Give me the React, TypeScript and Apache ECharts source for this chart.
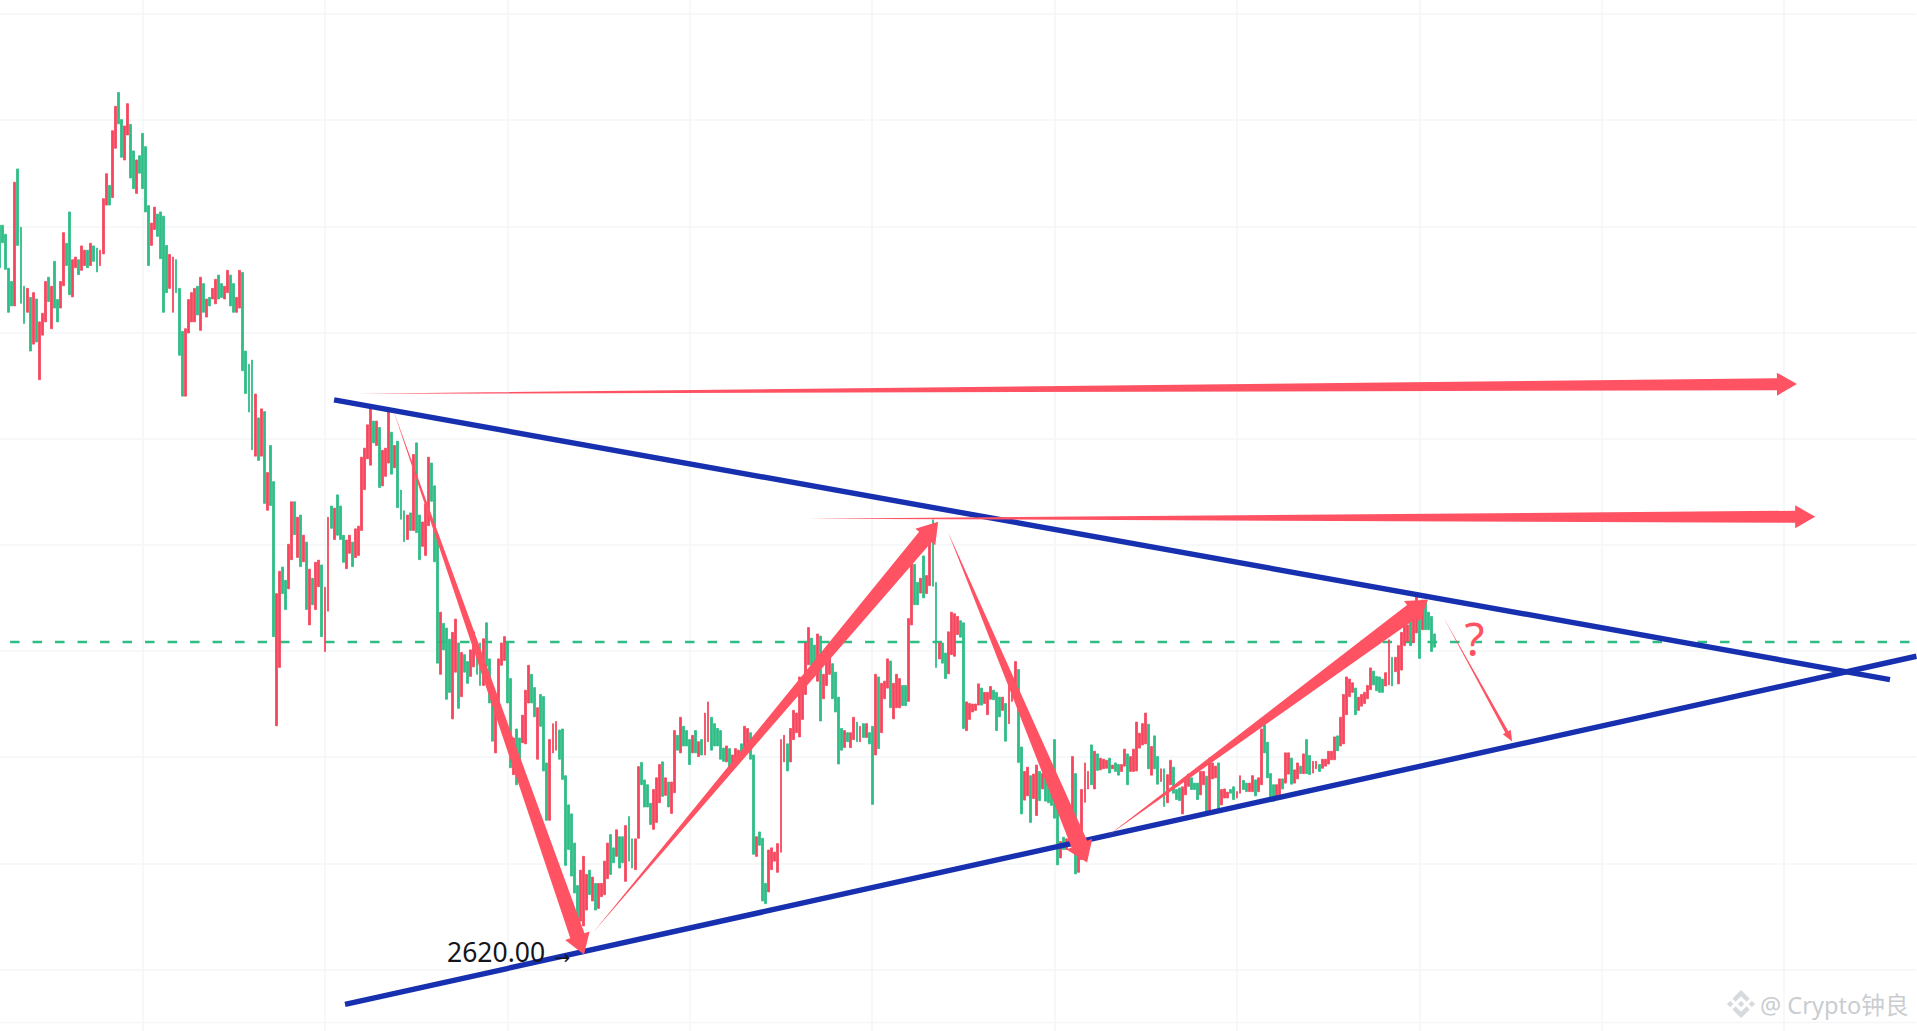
import React, { useEffect, useRef } from "react";
import * as echarts from "echarts";

const highs = [
4002,4002,3985,3921,3896,4083,4108,3998,3887,3883,
3866,3875,3863,3820,3836,3896,3904,3887,3934,3862,
3896,3988,3968,4027,3937,3942,3937,3963,3955,3955,
3968,3963,3959,3955,4052,4099,4077,4180,4226,4252,
4201,4189,4231,4192,4142,4125,4133,4175,4150,4039,
4006,4036,4023,4027,4019,3964,3947,3942,3937,3883,
3802,3807,3862,3875,3883,3887,3904,3892,3863,3866,
3883,3900,3908,3892,3887,3917,3908,3892,3866,3917,
3913,3765,3740,3748,3684,3639,3656,3651,3536,3587,
3519,3308,3350,3358,3333,3401,3481,3481,3452,3456,
3418,3405,3354,3337,3367,3371,3362,3320,3452,3473,
3469,3494,3473,3418,3409,3418,3405,3430,3435,3565,
3582,3626,3658,3633,3633,3621,3578,3582,3651,3612,
3587,3595,3503,3464,3456,3460,3570,3592,3456,3443,
3477,3565,3554,3511,3419,3273,3252,3243,3222,3235,
3260,3215,3197,3193,3180,3202,3236,3193,3215,3223,
3253,3185,3121,3118,3185,3215,3227,3215,3148,3036,
3053,3036,3079,3126,3173,3156,3131,3093,3118,3114,
2989,3033,3063,3067,3051,3053,2965,2910,2893,2838,
2758,2787,2813,2779,2787,2774,2762,2762,2762,2804,
2838,2854,2829,2863,2850,2850,2871,2888,2846,2846,
2982,2990,2957,2948,2913,2939,2961,2986,2991,2961,
2953,2953,3050,3041,3075,3058,3050,3033,3041,3050,
3029,3033,3083,3104,3075,3063,3054,3050,3017,3021,
3016,3004,3016,3013,3025,3058,3054,3046,3004,2850,
2859,2847,2762,2825,2829,2821,2837,3033,3041,3025,
3054,3088,3083,3151,3143,3215,3244,3224,3211,3232,
3228,3156,3190,3190,3176,3160,3113,3054,3050,3046,
3046,3075,3066,3058,3063,3063,3046,3058,3156,3151,
3139,3143,3185,3181,3139,3156,3148,3135,3135,3261,
3400,3363,3329,3337,3379,3342,3416,3447,3329,3215,
3215,3196,3236,3273,3270,3265,3257,3253,3104,3101,
3100,3100,3138,3130,3122,3122,3133,3126,3122,3113,
3113,3101,3148,3141,3180,3165,3019,2973,2981,2965,
2968,2985,2973,2969,2973,2954,2948,3033,2919,2841,
2849,2846,2857,3001,2969,2832,2939,2989,2973,3023,
3011,3006,2998,2996,2994,2998,2985,2989,2986,2986,
3015,3006,3001,3015,3066,3045,3063,3083,3062,3020,
3040,3001,2978,2978,2967,2994,2981,2939,2942,2944,
2961,2968,2961,2951,2951,2973,2973,2964,2998,2989,
2983,2989,2939,2940,2934,2939,2944,2935,2965,2956,
2951,2951,2965,2957,2961,3053,3061,3028,2969,2948,
2948,2959,2959,3008,3008,2998,2976,2989,2983,3006,
3033,3003,2992,2992,2986,2996,2996,3011,3011,3038,
3040,3075,3118,3151,3147,3140,3130,3113,3118,3122,
3135,3168,3162,3152,3151,3147,3159,3221,3188,3188,
3210,3235,3251,3249,3259,3264,3306,3293,3296,3296,
3273,3265,3232,
];

const lows = [
3922,3969,3919,3838,3850,3850,3964,3855,3817,3838,
3765,3778,3782,3711,3795,3820,3858,3807,3846,3820,
3846,3888,3926,3871,3867,3922,3909,3917,3926,3922,
3926,3934,3914,3926,3948,4040,4040,4054,4147,4193,
4130,4125,4172,4091,4071,4062,4100,4071,4027,3926,
3964,3994,3981,3939,3838,3875,3883,3838,3875,3757,
3680,3680,3799,3820,3820,3833,3804,3838,3829,3850,
3863,3854,3863,3866,3863,3875,3850,3838,3838,3846,
3728,3685,3650,3579,3567,3559,3567,3478,3465,3474,
3227,3059,3169,3308,3278,3317,3372,3419,3376,3359,
3368,3278,3249,3287,3278,3321,3227,3199,3275,3431,
3410,3418,3410,3367,3355,3384,3359,3376,3380,3427,
3504,3562,3550,3592,3587,3508,3511,3529,3554,3533,
3545,3470,3448,3406,3410,3427,3427,3423,3372,3397,
3380,3436,3482,3368,3177,3156,3202,3109,3122,3072,
3160,3092,3114,3160,3139,3152,3170,3156,3135,3135,
3171,3102,3030,3008,3096,3173,3182,3102,2980,2967,
2948,2977,3027,3025,3102,3102,3076,2996,3058,2974,
2881,2881,3008,3013,2996,2958,2796,2826,2776,2744,
2678,2691,2682,2712,2741,2729,2712,2715,2737,2741,
2771,2779,2801,2813,2791,2801,2766,2804,2791,2788,
2847,2948,2906,2906,2873,2864,2877,2914,2926,2928,
2906,2894,2933,3013,3008,3021,3021,2986,3008,3008,
3001,3004,3004,3029,3013,3021,3021,2996,2992,2991,
2980,2980,2983,2989,2996,3008,3021,2996,2817,2813,
2834,2729,2724,2746,2788,2804,2783,2821,2991,2974,
2991,3033,3046,3038,3071,3118,3174,3173,3174,3143,
3068,3110,3135,3156,3110,3085,2987,3013,3018,3029,
3018,3033,3029,3029,3037,3037,3025,2911,3004,3016,
3046,3110,3130,3093,3072,3093,3093,3097,3097,3105,
3249,3287,3287,3309,3300,3308,3323,3322,3169,3185,
3177,3148,3157,3193,3190,3231,3226,3054,3050,3071,
3085,3088,3098,3098,3101,3080,3109,3108,3050,3076,
3088,3030,3063,3105,3118,2990,2893,2919,2927,2877,
2922,2890,2918,2940,2917,2914,2909,2885,2797,2810,
2826,2826,2832,2857,2780,2783,2807,2915,2940,2948,
2940,2975,2976,2978,2979,2970,2978,2973,2966,2973,
2983,2948,2973,2973,2974,3017,3023,3025,2978,2966,
2978,2949,2954,2907,2914,2948,2932,2920,2918,2893,
2929,2945,2939,2939,2920,2929,2948,2896,2898,2959,
2961,2901,2910,2923,2923,2932,2920,2923,2932,2939,
2935,2935,2935,2927,2935,2948,3008,2961,2917,2917,
2926,2929,2940,2951,2968,2949,2951,2959,2969,2969,
2969,2967,2970,2978,2973,2979,2983,2987,2995,2995,
3012,3021,3025,3080,3114,3122,3080,3088,3096,3101,
3110,3127,3136,3125,3122,3122,3134,3136,3134,3161,
3138,3164,3210,3218,3210,3216,3234,3186,3240,3240,
3240,3199,3207,
];

// one letter per candle: g = green, r = red
const sides = [
"gggggrgggr","grgrrrgrgg","rrggrrgrrg","rggrrrgrrg","grrggrgggg",
"rrggggrrgg","grrrrgrgrg","rrggrrggrr","ggggrgrgrg","grrggrrgrg",
"rgrgrrgrrg","rgggrrgrrr","rrrgrgrrrg","rgggrgrggr","rrgggrgggr",
"rgrggrrggr","gggrrrrggr","ggrrrggrgg","grrrgggggg","grrrgrgrrr",
"rggrggrggr","rggggrrrgr","grrgrgggrg","rgrrgggggr","grrrgrrggr",
"gggrrrrrrg","rrrrrrrggr","grrrggggrg","rrgrgrggrg","rrrgrrrggr",
"rggrgrrggr","ggrrrrggrr","rrrgrrrggg","rgrrrggrrg","rrgrgggggr",
"grrrgrrrrg","rgrrrgrggr","rgrrrrrrgr","ggrgrrgggr","rrgggrrgrr",
"rgrrrggrrg","grrgrrgggg","rrgrrgrrgr","ggrrgrrrrr","grrrrrgrrr",
"rrggggrrgr","rrrrgrrgrg","ggg",
].join("").split("");

const annotationLabel = "2620.00";
const pointerLabel = "→";
const questionLabel = "?";
const watermarkLabel = "@ Crypto钟良";

const dashedLevel = 3217;
const baseline = 2500;

// [start index, start price, end index, end price]
const upperTrend = [[110, 3673], [621.8, 3146]];
const lowerTrend = [[113.6, 2534], [630.5, 3190]];
const pointerAnchor = [[182.4, 2624]];
const arrows = [
  [117.5, 3684.5, 591.2, 3702.8],
  [265.6, 3449, 597.2, 3452.9],
  [129.4, 3654.4, 192.2, 2628],
  [195.2, 2669.6, 308.7, 3443.5],
  [311.9, 3424.6, 357.7, 2801.4],
  [364.2, 2850.3, 469.8, 3296.6],
  [474.8, 3264.6, 497.5, 3029.2],
];
// shaft, head width, head length
const arrowSizes = [
  [12, 23, 20],
  [12, 23, 20],
  [15, 26, 20],
  [16, 26, 20],
  [17, 28, 20],
  [16, 26, 20],
  [3.5, 9, 11],
];

const GREEN = "#2EBD85";
const RED = "#F6465D";
const ARROW = "#FF5364";
const BLUE = "#1730AF";
const GRID = "#F5F6F9";
const BANDS = 631;

const LOGO =
  "M38.73 53.2l24.59-24.58 24.6 24.6 14.3-14.31L63.32 0 24.43 38.9zM0 63.31l14.3-14.31 14.31 14.31-14.31 14.3zM38.73 73.41l24.59 24.59 24.6-24.6 14.31 14.29-38.9 38.91-38.91-38.88v-.03zM98 63.31l14.3-14.31 14.31 14.3-14.31 14.32zM77.83 63.3L63.32 48.78 52.59 59.51l-1.24 1.23-2.54 2.54 14.51 14.53 14.51-14.5z";

export default function App() {
  const ref = useRef<HTMLDivElement>(null);
  useEffect(() => {
    document.body.style.margin = "0";
    document.body.style.background = "#fff";
    echarts.graphic.registerShape("logo", echarts.graphic.extendPath(LOGO as any, {} as any));
    const chart = echarts.init(ref.current!, null, { renderer: "svg" });
    const categories = Array.from({ length: BANDS }, (_, i) => String(i));
    const candles = highs.map((h, i) => {
      const l = lows[i];
      return sides[i] === "g" ? [l, h, l, h] : [h, l, l, h];
    });
    chart.setOption({
      animation: false,
      backgroundColor: "#fff",
      grid: {
        left: -1.82,
        width: 1918.24,
        top: -92.2,
        height: 1167.8,
        containLabel: false,
        outerBoundsMode: "none",
      },
      xAxis: [
        {
          type: "category",
          data: categories,
          axisLine: { show: false },
          axisTick: { show: false },
          axisLabel: { show: false },
          splitLine: {
            show: true,
            alignWithLabel: true,
            interval: (i: number) => i % 60 === 47,
            lineStyle: { color: GRID, width: 1.5 },
          },
        },
        { type: "value", min: -0.5, max: BANDS - 0.5, show: false, splitLine: { show: false } },
      ],
      yAxis: {
        type: "value",
        min: 2400,
        max: 4600,
        interval: 200,
        axisLine: { show: false },
        axisTick: { show: false },
        axisLabel: { show: false },
        splitLine: { show: true, lineStyle: { color: GRID, width: 1.5 } },
      },
      series: [
        {
          type: "line",
          xAxisIndex: 1,
          data: [[-0.5, baseline], [BANDS - 0.5, baseline]],
          showSymbol: false,
          silent: true,
          z: 1,
          lineStyle: { color: GRID, width: 1.5 },
        },
        {
          type: "line",
          xAxisIndex: 1,
          data: [[3.4, dashedLevel], [BANDS - 0.5, dashedLevel]],
          showSymbol: false,
          silent: true,
          z: 1,
          lineStyle: { color: GREEN, width: 2.5, type: [9.5, 13] },
        },
        {
          type: "candlestick",
          data: candles,
          barWidth: 2.4,
          z: 2,
          itemStyle: { color: GREEN, color0: RED, borderColor: GREEN, borderColor0: RED, borderWidth: 0.8 },
        },
        {
          type: "line",
          xAxisIndex: 1,
          data: upperTrend,
          showSymbol: false,
          silent: true,
          z: 3,
          lineStyle: { color: BLUE, width: 5.4 },
        },
        {
          type: "line",
          xAxisIndex: 1,
          data: lowerTrend,
          showSymbol: false,
          silent: true,
          z: 3,
          lineStyle: { color: BLUE, width: 5.4 },
        },
        {
          type: "custom",
          xAxisIndex: 1,
          yAxisIndex: 0,
          coordinateSystem: "cartesian2d",
          clip: false,
          silent: true,
          z: 4,
          encode: { x: [0, 2], y: [1, 3] },
          data: arrows,
          renderItem: (params: any, api: any) => {
            const a = api.coord([api.value(0), api.value(1)]);
            const b = api.coord([api.value(2), api.value(3)]);
            const [shaft, head, len] = arrowSizes[params.dataIndex];
            const dx = b[0] - a[0];
            const dy = b[1] - a[1];
            const d = Math.hypot(dx, dy);
            const ux = dx / d;
            const uy = dy / d;
            const nx = -uy;
            const ny = ux;
            const bx = b[0] - ux * len;
            const by = b[1] - uy * len;
            return {
              type: "polygon",
              shape: {
                points: [
                  a,
                  [bx + (nx * shaft) / 2, by + (ny * shaft) / 2],
                  [bx + (nx * head) / 2, by + (ny * head) / 2],
                  b,
                  [bx - (nx * head) / 2, by - (ny * head) / 2],
                  [bx - (nx * shaft) / 2, by - (ny * shaft) / 2],
                ],
              },
              style: { fill: ARROW },
            };
          },
        },
        {
          type: "custom",
          xAxisIndex: 1,
          yAxisIndex: 0,
          coordinateSystem: "cartesian2d",
          clip: false,
          silent: true,
          z: 5,
          encode: { x: 0, y: 1 },
          data: pointerAnchor,
          renderItem: (_params: any, api: any) => {
            const p = api.coord([api.value(0), api.value(1)]);
            return {
              type: "text",
              x: p[0],
              y: p[1],
              style: {
                text: pointerLabel,
                fill: "#15151c",
                fontSize: 19,
                fontFamily: "DejaVu Sans",
                verticalAlign: "middle",
              },
            };
          },
        },
      ],
      graphic: [
        {
          type: "text",
          x: 447,
          y: 952,
          z: 6,
          style: {
            text: annotationLabel,
            fill: "#15151c",
            fontSize: 26.5,
            fontFamily: "Noto Sans",
            verticalAlign: "middle",
          },
        },
        {
          type: "text",
          x: 1464.5,
          y: 638,
          z: 6,
          style: { text: questionLabel, fill: ARROW, fontSize: 46, fontFamily: "Noto Sans", verticalAlign: "middle" },
        },
        {
          type: "logo",
          x: 1727,
          y: 990,
          scaleX: 0.222,
          scaleY: 0.222,
          z: 6,
          style: { fill: "#D7DADD", stroke: "#E6E8EA", lineWidth: 2 },
        },
        {
          type: "text",
          x: 1760,
          y: 1005,
          z: 6,
          style: {
            text: watermarkLabel,
            fill: "#C9CDD0",
            fontSize: 23.6,
            fontFamily: "Noto Sans, Noto Sans CJK SC",
            verticalAlign: "middle",
          },
        },
      ],
    });
    return () => chart.dispose();
  }, []);
  return <div ref={ref} style={{ position: "absolute", left: 0, top: 0, width: 1917, height: 1031 }} />;
}
